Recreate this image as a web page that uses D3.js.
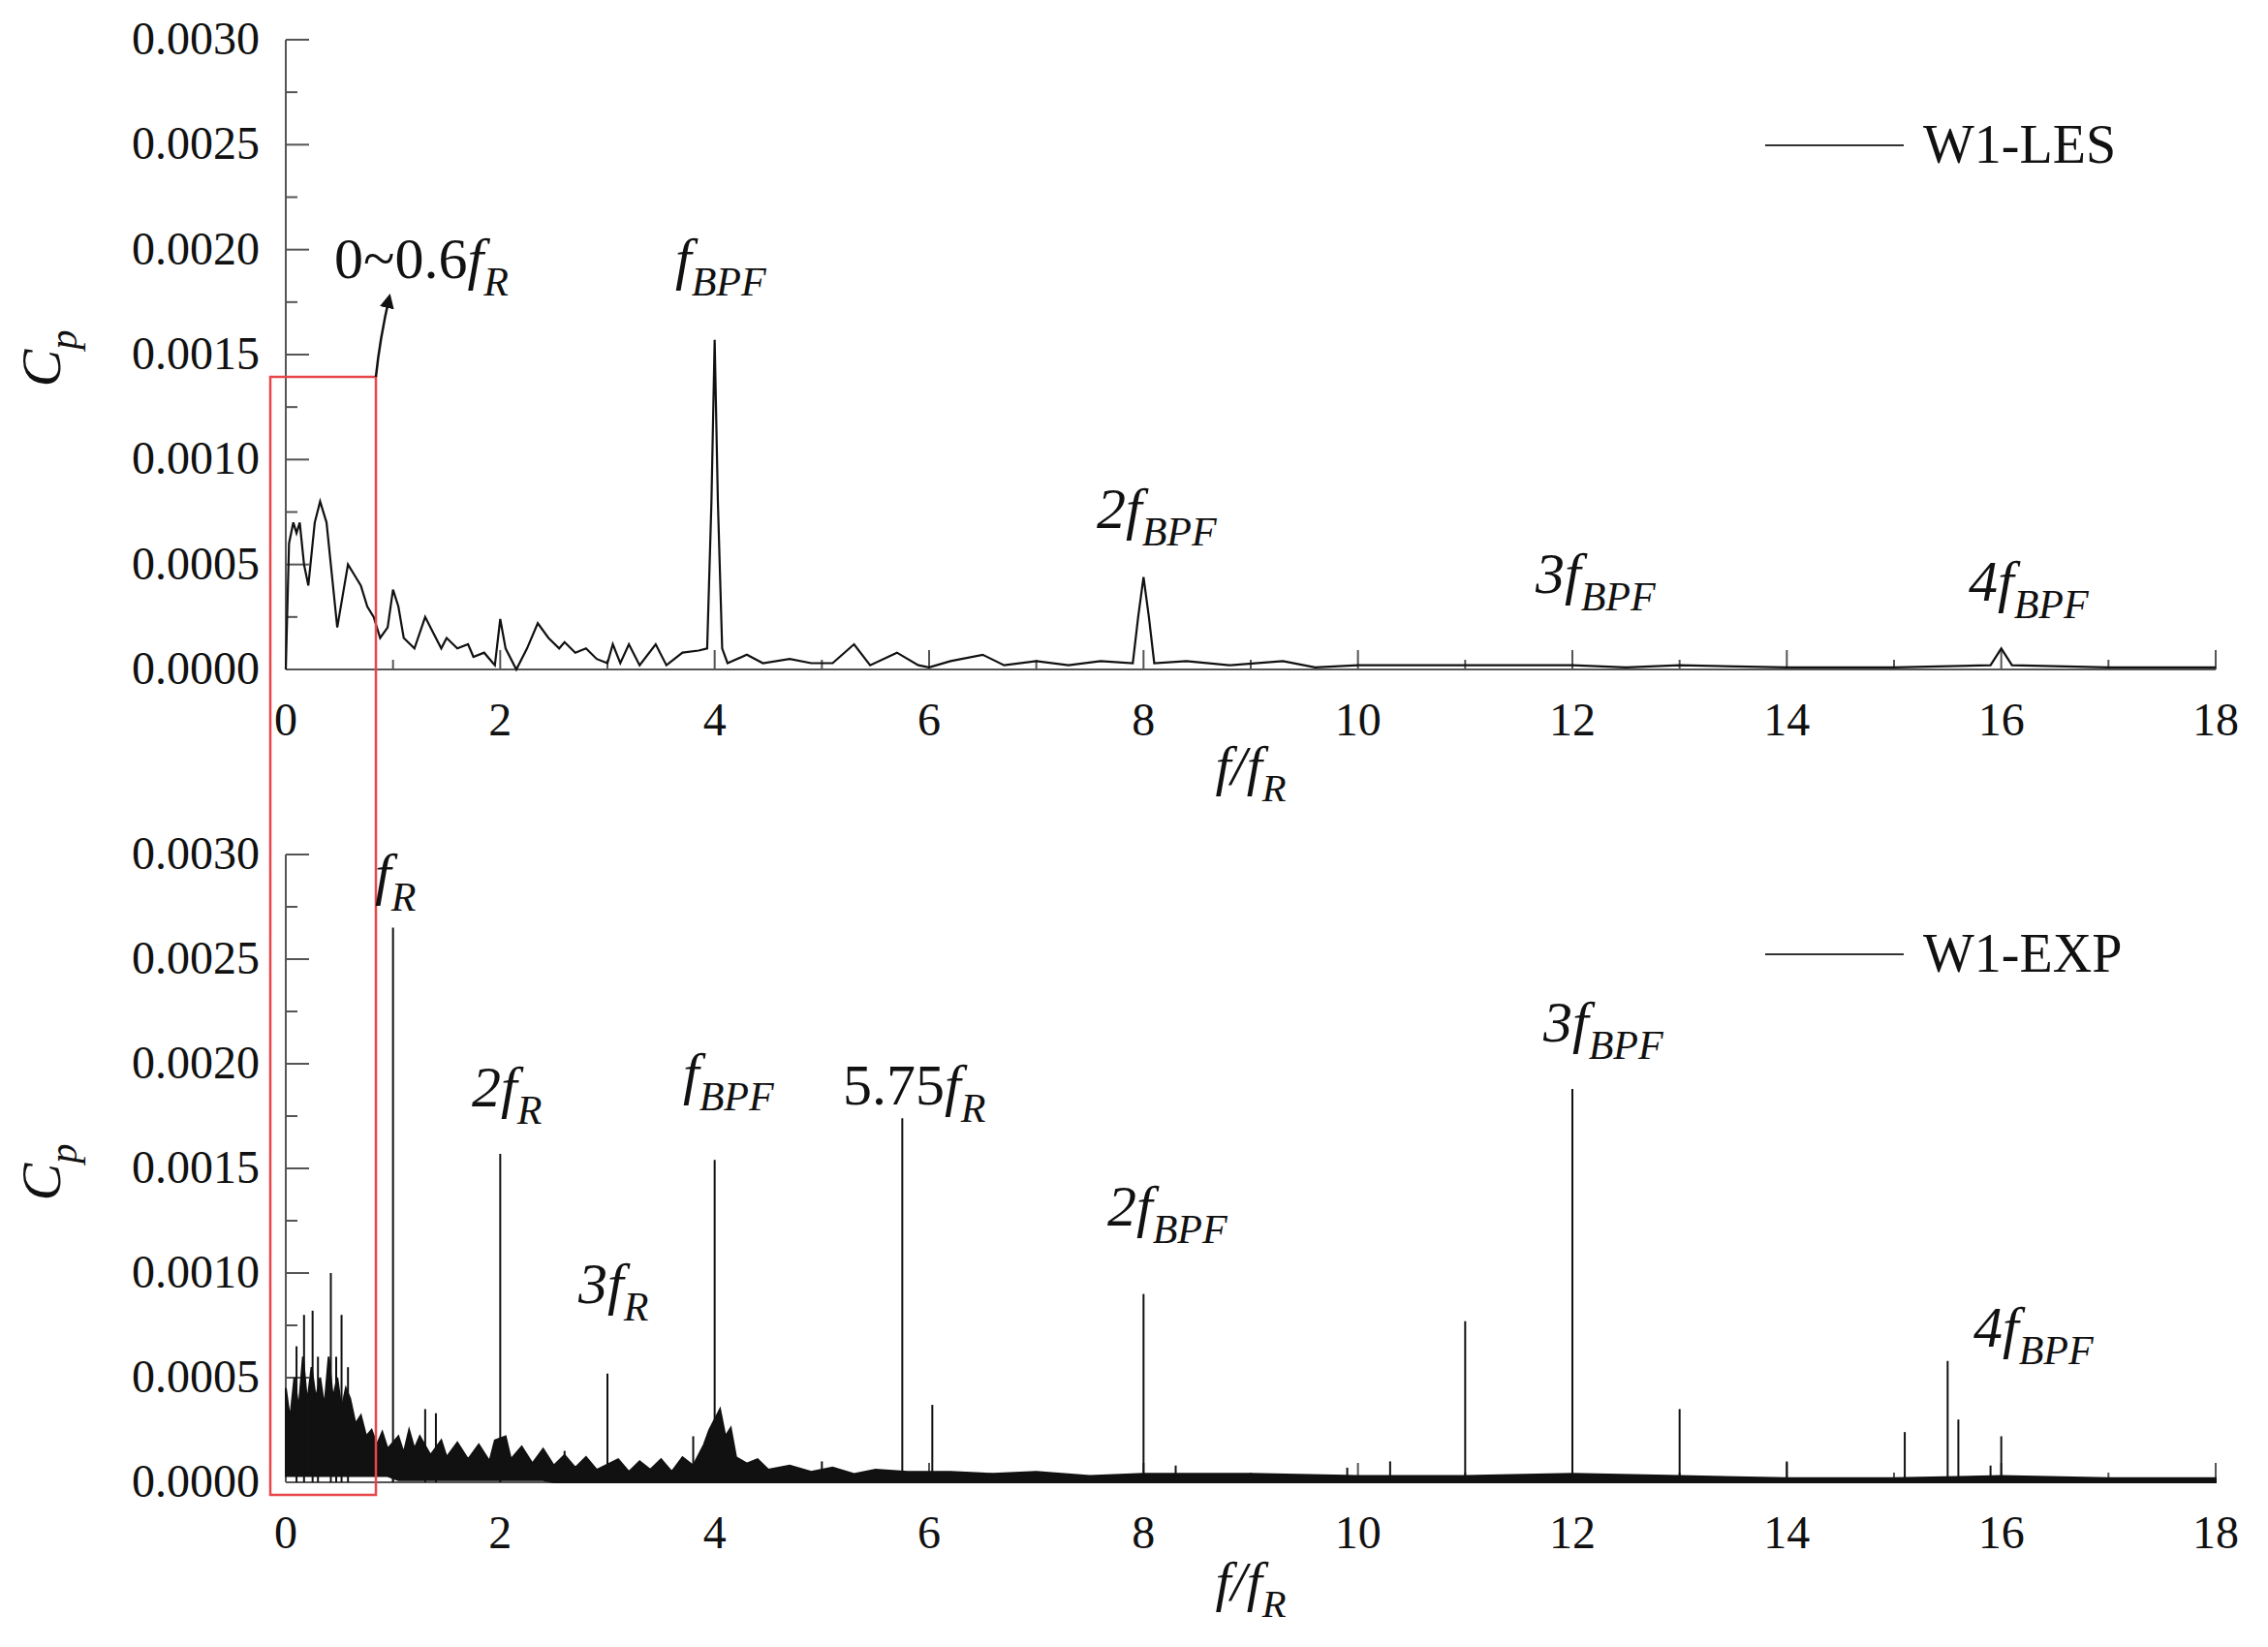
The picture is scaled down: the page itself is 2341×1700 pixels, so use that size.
<!DOCTYPE html>
<html><head><meta charset="utf-8">
<script src="https://cdn.jsdelivr.net/npm/d3@7"></script>
<style>body{margin:0;background:#fff}text{font-family:"Liberation Serif",serif;fill:#111}</style>
</head><body><div id="chart"></div>
<script>
// x ticks, y ticks
const xTicks = [0, 2, 4, 6, 8, 10, 12, 14, 16, 18];
const yTicks = [0, 0.0005, 0.001, 0.0015, 0.002, 0.0025, 0.003];

// W1-LES spectrum [f/fR, Cp]
const lesX = [0,0.03,0.07,0.1,0.13,0.17,0.21,0.27,0.32,0.38,0.44,0.48,0.53,0.58,0.64,0.7,0.76,0.82,0.88,0.95,1.0,1.05,1.1,1.2,1.3,1.35,1.45,1.5,1.6,1.7,1.75,1.85,1.95,2.0,2.05,2.15,2.25,2.35,2.45,2.55,2.6,2.7,2.8,2.9,3.0,3.05,3.12,3.2,3.3,3.45,3.55,3.7,3.85,3.93,3.97,4.0,4.03,4.07,4.12,4.3,4.45,4.7,4.9,5.1,5.3,5.45,5.7,5.9,6.0,6.2,6.5,6.7,7.0,7.3,7.6,7.9,7.95,8.0,8.05,8.1,8.4,8.8,9.3,9.6,10,10.5,11,12,12.5,13,14,15,15.9,16,16.1,17,18];
const lesY = [0,0.0006,0.0007,0.00065,0.0007,0.0005,0.0004,0.0007,0.0008,0.0007,0.0004,0.0002,0.00035,0.0005,0.00045,0.0004,0.0003,0.00025,0.00015,0.0002,0.00038,0.0003,0.00015,0.0001,0.00025,0.0002,0.0001,0.00015,0.0001,0.00012,0.00006,0.00008,0.00002,0.00024,0.0001,0,0.0001,0.00022,0.00015,0.0001,0.00013,0.00008,0.0001,0.00005,0.00003,0.00012,0.00003,0.00012,0.00002,0.00012,0.00002,0.00008,0.00009,0.0001,0.0008,0.00157,0.0008,0.0001,0.00003,0.00007,0.00003,0.00005,0.00003,0.00003,0.00012,0.00002,0.00008,0.00002,0.00001,0.00004,0.00007,0.00002,0.00004,0.00002,0.00004,0.00003,0.00025,0.00044,0.00025,0.00003,0.00004,0.00002,0.00004,0.00001,0.00002,0.00002,0.00002,0.00002,0.00001,0.00002,0.00001,0.00001,0.00002,0.0001,0.00002,0.00001,0.00001];

// W1-EXP broadband noise band: upper / lower envelope
const expBandX = [0,0.04,0.08,0.12,0.16,0.2,0.24,0.28,0.32,0.36,0.4,0.44,0.48,0.52,0.56,0.6,0.65,0.7,0.75,0.8,0.85,0.9,0.95,1.05,1.1,1.15,1.2,1.25,1.35,1.45,1.5,1.6,1.7,1.8,1.9,1.95,2.05,2.1,2.2,2.3,2.4,2.5,2.6,2.7,2.8,2.9,3.1,3.2,3.3,3.4,3.5,3.6,3.7,3.8,3.9,3.95,4.0,4.05,4.1,4.15,4.2,4.3,4.4,4.5,4.7,4.9,5.1,5.3,5.5,5.8,6.2,6.6,7,7.5,8,9,10,11,12,13,14,15,16,17,18];
const expBandHi = [0.00045,0.0003,0.0005,0.00035,0.0006,0.00038,0.00055,0.0004,0.0005,0.00036,0.0006,0.0004,0.0005,0.00035,0.00045,0.0004,0.00028,0.00032,0.00022,0.00025,0.00018,0.00024,0.00016,0.00022,0.00014,0.00025,0.00016,0.00022,0.00013,0.0002,0.00012,0.00019,0.00011,0.00018,0.0001,0.0002,0.00022,0.00011,0.00017,0.00009,0.00016,0.00008,0.00013,0.00007,0.00012,0.00006,0.00011,0.00005,0.0001,0.00006,0.00011,0.00005,0.00012,0.00008,0.00018,0.00025,0.0003,0.00035,0.00022,0.00026,0.00012,0.00009,0.00011,0.00006,0.00008,0.00005,0.00007,0.00004,0.00006,0.00005,0.00005,0.00004,0.00005,0.00003,0.00004,0.00004,0.00003,0.00003,0.00004,0.00003,0.00002,0.00002,0.00003,0.00002,0.00002];
const expBandLo = expBandX.map(v => v < 1 ? 0.00003 : (v < 2.5 ? 0.00001 : 0));
// discrete tonal spikes
const spikeX = [0.1,0.17,0.25,0.3,0.42,0.47,0.52,0.58,1.0,1.3,1.4,2.0,2.6,3.0,3.8,4.0,5.0,5.75,6.03,8.0,8.3,9.9,10.3,11.0,12.0,13.0,14.0,15.1,15.5,15.6,15.9,16.0];
const spikeY = [0.00065,0.0008,0.00082,0.0006,0.001,0.0006,0.0008,0.00055,0.00265,0.00035,0.00033,0.00157,0.00015,0.00052,0.00022,0.00154,0.0001,0.00174,0.00037,0.0009,0.00008,0.00007,0.0001,0.00077,0.00188,0.00035,0.0001,0.00024,0.00058,0.0003,0.00008,0.00022];

const W = 2341, H = 1700;
const svg = d3.select('#chart').append('svg').attr('width', W).attr('height', H);

const x = d3.scaleLinear().domain([0, 18]).range([295, 2287]);
const panels = [
  {top: 41, bottom: 691, legend: 'W1-LES', legY: 150, xlabY: 810, cpY: 370},
  {top: 882, bottom: 1530, legend: 'W1-EXP', legY: 985, xlabY: 1652, cpY: 1210}
];

function sub(t, parts, size) {
  // parts: [[text, italic, isSub]]
  parts.forEach(p => {
    const ts = t.append('tspan').text(p[0]);
    if (p[1]) ts.attr('font-style', 'italic');
    if (p[2] === 1) ts.attr('font-size', size * 0.7).attr('dy', size * 0.3);
  });
}

panels.forEach((p, i) => {
  const y = d3.scaleLinear().domain([0, 0.003]).range([p.bottom, p.top]);
  p.y = y;
  const g = svg.append('g');
  // y axis
  g.append('line').attr('x1', x(0)).attr('x2', x(0)).attr('y1', p.top).attr('y2', p.bottom).attr('stroke', '#555').attr('stroke-width', 2);
  d3.range(0, 0.00301, 0.00025).forEach((v, k) => {
    g.append('line').attr('x1', x(0)).attr('x2', x(0) + (k % 2 ? 12 : 24)).attr('y1', y(v)).attr('y2', y(v)).attr('stroke', '#555').attr('stroke-width', 2);
  });
  yTicks.forEach(v => g.append('text').attr('x', 268).attr('y', y(v) + 15).attr('text-anchor', 'end').attr('font-size', 48).text(v.toFixed(4)));
  // x axis
  g.append('line').attr('x1', x(0)).attr('x2', x(18)).attr('y1', p.bottom).attr('y2', p.bottom).attr('stroke', '#555').attr('stroke-width', 2);
  d3.range(0, 19, 1).forEach(v => {
    g.append('line').attr('x1', x(v)).attr('x2', x(v)).attr('y1', p.bottom).attr('y2', p.bottom - (v % 2 ? 10 : 20)).attr('stroke', '#555').attr('stroke-width', 2);
  });
  xTicks.forEach(v => g.append('text').attr('x', x(v)).attr('y', p.bottom + 68).attr('text-anchor', 'middle').attr('font-size', 48).text(v));
  // axis labels
  const xl = g.append('text').attr('x', x(9)).attr('y', p.xlabY).attr('text-anchor', 'middle').attr('font-size', 58);
  sub(xl, [['f/f', true], ['R', true, 1]], 58);
  const yl = g.append('text').attr('transform', `translate(62,${p.cpY}) rotate(-90)`).attr('text-anchor', 'middle').attr('font-size', 58);
  sub(yl, [['C', true], ['p', true, 1]], 58);
  // legend
  g.append('line').attr('x1', 1822).attr('x2', 1965).attr('y1', p.legY).attr('y2', p.legY).attr('stroke', '#333').attr('stroke-width', 2);
  g.append('text').attr('x', 1985).attr('y', p.legY + 18).attr('font-size', 56).text(p.legend);
});

// LES line
const y0 = panels[0].y;
svg.append('path').datum(lesX.map((v, i) => [v, lesY[i]]))
  .attr('d', d3.line().x(d => x(d[0])).y(d => y0(d[1])))
  .attr('fill', 'none').attr('stroke', '#111').attr('stroke-width', 2.2);

// EXP band + spikes
const y1 = panels[1].y;
svg.append('path').datum(expBandX.map((v, i) => [v, expBandLo[i], expBandHi[i]]))
  .attr('d', d3.area().x(d => x(d[0])).y0(d => y1(d[1])).y1(d => y1(d[2])))
  .attr('fill', '#111').attr('stroke', '#111').attr('stroke-width', 2);
svg.append('g').selectAll('line').data(spikeX.map((v, i) => [v, spikeY[i]])).enter().append('line')
  .attr('x1', d => x(d[0])).attr('x2', d => x(d[0]))
  .attr('y1', y1(0)).attr('y2', d => y1(d[1]))
  .attr('stroke', '#111').attr('stroke-width', 2);

// red box and arrow
svg.append('rect').attr('x', 279).attr('y', 389).attr('width', 109).attr('height', 1154)
  .attr('fill', 'none').attr('stroke', '#e8474a').attr('stroke-width', 2.5);
svg.append('defs').append('marker').attr('id', 'ah').attr('viewBox', '0 0 10 10').attr('refX', 8).attr('refY', 5)
  .attr('markerWidth', 6).attr('markerHeight', 6).attr('orient', 'auto')
  .append('path').attr('d', 'M0,0L10,5L0,10z').attr('fill', '#111');
svg.append('path').attr('d', 'M388,389 Q392,350 402,306').attr('fill', 'none').attr('stroke', '#111').attr('stroke-width', 2.5).attr('marker-end', 'url(#ah)');

// annotations
const notes = [
  [345, 287, [['0~0.6', false], ['f', true], ['R', true, 1]]],
  [697, 287, [['f', true], ['BPF', true, 1]]],
  [1132, 545, [['2', true], ['f', true], ['BPF', true, 1]]],
  [1585, 612, [['3', true], ['f', true], ['BPF', true, 1]]],
  [2032, 620, [['4', true], ['f', true], ['BPF', true, 1]]],
  [387, 922, [['f', true], ['R', true, 1]]],
  [487, 1142, [['2', true], ['f', true], ['R', true, 1]]],
  [597, 1345, [['3', true], ['f', true], ['R', true, 1]]],
  [705, 1128, [['f', true], ['BPF', true, 1]]],
  [870, 1140, [['5.75', false], ['f', true], ['R', true, 1]]],
  [1143, 1265, [['2', true], ['f', true], ['BPF', true, 1]]],
  [1593, 1075, [['3', true], ['f', true], ['BPF', true, 1]]],
  [2037, 1390, [['4', true], ['f', true], ['BPF', true, 1]]]
];
notes.forEach(n => {
  const t = svg.append('text').attr('x', n[0]).attr('y', n[1]).attr('font-size', 60);
  sub(t, n[2], 60);
});
</script></body></html>
